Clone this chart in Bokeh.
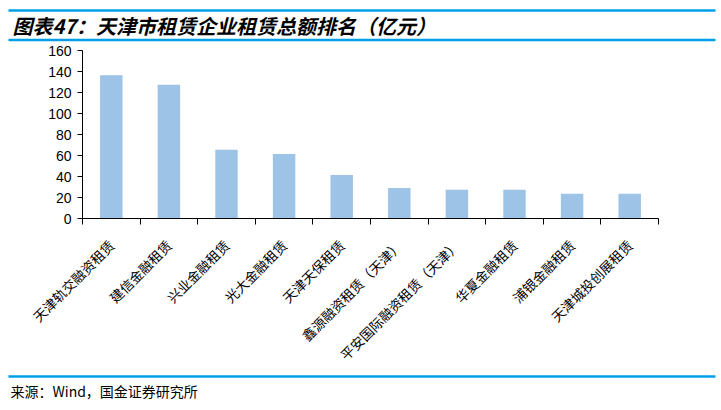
import math
from bokeh.plotting import figure
from bokeh.layouts import column
from bokeh.models import Range1d, FixedTicker, ColumnDataSource, LinearAxis
from bokeh.core.properties import value
from bokeh.embed import file_html
from bokeh.resources import INLINE

# ---- data ----
companies = ["天津轨交融资租赁", "建信金融租赁", "兴业金融租赁", "光大金融租赁", "天津天保租赁",
             "鑫源融资租赁（天津）", "平安国际融资租赁（天津）", "华夏金融租赁", "浦银金融租赁",
             "天津城投创展租赁"]
amounts = [136.5, 127.5, 65.5, 61.5, 41.5, 29, 27.5, 27.5, 23.5, 23.5]
y_ticks = [0, 20, 40, 60, 80, 100, 120, 140, 160]
title_text = "图表47：天津市租赁企业租赁总额排名（亿元）"
source_text = "来源：Wind，国金证券研究所"

W = 720
BLUE_LINE = "#00A0E9"
BAR = "#9DC3E6"
CJK = "Noto Sans CJK SC"


def blank(h):
    f = figure(width=W, height=h, x_range=Range1d(0, W), y_range=Range1d(0, h),
               output_backend="svg", toolbar_location=None, min_border=0,
               x_axis_location=None, y_axis_location=None)
    f.grid.visible = False
    f.outline_line_color = None
    f.frame_align = False
    return f


# ---- header ----
HH = 42
head = blank(HH)
head.segment(x0=[8, 8], x1=[715, 715], y0=[HH - 10, HH - 39.5], y1=[HH - 10, HH - 39.5],
             line_color=BLUE_LINE, line_width=2.5)
head.text(x=[12], y=[HH - 25], text=[title_text], text_font=value(CJK), text_font_size="20px",
          text_font_style="bold italic", text_color="#000000", text_baseline="middle", text_align="left")

# ---- main chart ----
MH = 332
n = len(companies)
centers = list(range(1, n + 1))
bounds = [i + 0.5 for i in range(0, n + 1)]
src = ColumnDataSource(dict(x=centers, top=amounts))

p = figure(width=W, height=MH, x_range=Range1d(0.5, n + 0.5), y_range=Range1d(0, 160),
           output_backend="svg", toolbar_location=None, x_axis_location=None, y_axis_location=None)
p.min_border_left = 82
p.min_border_right = 62
p.min_border_top = 8
p.min_border_bottom = 154
p.outline_line_color = None
p.grid.visible = False
p.frame_align = False

p.vbar(x="x", top="top", width=0.39, source=src, fill_color=BAR, line_color=None)

yax = LinearAxis(ticker=FixedTicker(ticks=y_ticks, minor_ticks=[]))
yax.major_tick_out = 5
yax.major_tick_in = 0
yax.minor_tick_out = 0
yax.minor_tick_in = 0
yax.major_label_standoff = 6
yax.major_label_text_font = "Liberation Sans"
yax.major_label_text_font_size = "14px"
yax.major_label_text_color = "#000000"
yax.axis_line_color = "#000000"
yax.major_tick_line_color = "#000000"
p.add_layout(yax, "left")

xax = LinearAxis(ticker=FixedTicker(ticks=centers, minor_ticks=bounds))
xax.major_label_overrides = {c: name for c, name in zip(centers, companies)}
xax.major_label_orientation = math.pi / 4
xax.major_tick_out = 0
xax.major_tick_in = 0
xax.minor_tick_out = 6
xax.minor_tick_in = 0
xax.minor_tick_line_color = "#000000"
xax.axis_line_color = "#000000"
xax.major_label_standoff = 18
xax.major_label_text_font = CJK
xax.major_label_text_font_size = "13.5px"
xax.major_label_text_color = "#000000"
p.add_layout(xax, "below")

# ---- footer ----
FH = 35
foot = blank(FH)
foot.segment(x0=[8], x1=[715], y0=[FH - 2], y1=[FH - 2], line_color=BLUE_LINE, line_width=2.5)
foot.text(x=[10], y=[FH - 16], text=[source_text], text_font=value(CJK), text_font_size="14px",
          text_color="#000000", text_baseline="middle", text_align="left")

layout = column(head, p, foot, spacing=0)
open("out.html", "w").write(file_html(layout, INLINE))
